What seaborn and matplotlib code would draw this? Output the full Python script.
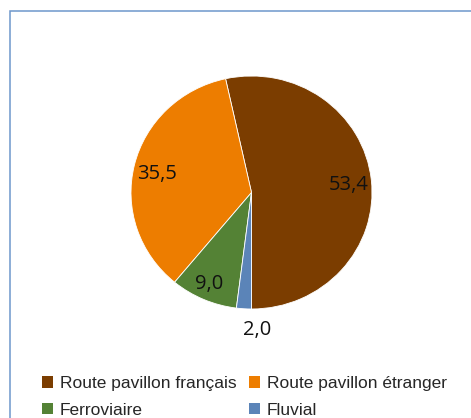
import numpy as np
import matplotlib
matplotlib.use("Agg")
import matplotlib.pyplot as plt
from matplotlib.patches import Patch, Rectangle
import seaborn as sns

# Répartition modale du transport intérieur de marchandises (%)
categories = ["Route pavillon français", "Route pavillon étranger", "Ferroviaire", "Fluvial"]
values = [53.4, 35.5, 9.0, 2.0]
value_labels = ["53,4", "35,5", "9,0", "2,0"]
colors = ["#7B3D00", "#ED7D00", "#548235", "#5B84B8"]

sns.set_theme(style="white")
plt.rcParams["font.family"] = ["Liberation Sans", "DejaVu Sans"]

W, H = 471, 418
fig = plt.figure(figsize=(W / 100, H / 100), dpi=100)
fig.patch.set_facecolor("white")

# chart-area frame (open on the right and bottom edges)
fig.add_artist(Rectangle((9.5 / W, -0.1), 1.0, (H - 10.5) / H + 0.1,
                         transform=fig.transFigure, fill=False,
                         edgecolor="#6E97CB", linewidth=1.1))

ax = fig.add_axes([131 / W, (H - 309) / H, 241 / W, 233 / H])
wedges, _ = ax.pie(values, colors=colors, startangle=-90, counterclock=True,
                   radius=1.0, wedgeprops=dict(linewidth=0.6, edgecolor="white"))
ax.set_aspect("auto")
ax.set_xlim(-1, 1)
ax.set_ylim(-1, 1)
ax.axis("off")

# data labels along each slice's mid-angle, with small pixel nudges
label_dist = [0.81, 0.81, 0.84, 1.16]
nudges = [(0, -3), (0, -4), (-2, -2), (14, -3)]
for w, lab, d, (dx, dy) in zip(wedges, value_labels, label_dist, nudges):
    mid = np.deg2rad((w.theta1 + w.theta2) / 2)
    ax.annotate(lab, xy=(d * np.cos(mid), d * np.sin(mid)),
                xytext=(dx * 0.72, dy * 0.72), textcoords="offset points",
                ha="center", va="center", fontsize=14.5,
                family=["Open Sans", "DejaVu Sans"], color="#111111",
                annotation_clip=False)

# legend filled row by row: two entries per row
order = [0, 2, 1, 3]
handles = [Patch(facecolor=colors[i], edgecolor="none") for i in order]
labels = [categories[i] for i in order]
fig.legend(handles, labels, ncol=2, loc="upper left",
           bbox_to_anchor=(42 / W, (H - 376) / H), frameon=False,
           fontsize=12.5, handlelength=0.62, handleheight=0.62,
           handletextpad=0.42, columnspacing=0.7, labelspacing=0.68,
           borderaxespad=0, borderpad=0)

fig.savefig("out.png", dpi=100)
